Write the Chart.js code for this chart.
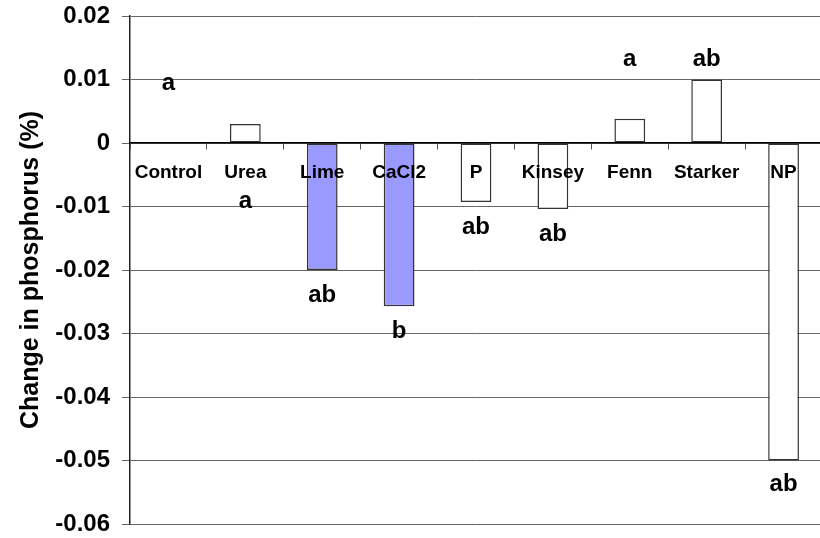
<!DOCTYPE html>
<html lang="en">
<head>
  <meta charset="UTF-8" />
  <title>Change in phosphorus</title>
  <script src="https://cdn.jsdelivr.net/npm/chart.js"></script>
  <style>
    html, body {
      margin: 0;
      padding: 0;
      background: #ffffff;
      overflow: hidden;
    }
    canvas { display: block; }
  </style>
</head>
<body>
  <canvas id="pChart" width="824" height="538"></canvas>

  <script>
    // treatments and mean change in P (%)
    const treatments = ['Control', 'Urea', 'Lime', 'CaCl2', 'P', 'Kinsey', 'Fenn', 'Starker', 'NP'];
    const changeP = [0, 0.0030, -0.0200, -0.0257, -0.0093, -0.0104, 0.0038, 0.0100, -0.0500];
    const barFill = ['#ffffff', '#ffffff', '#9999ff', '#9999ff', '#ffffff', '#ffffff', '#ffffff', '#ffffff', '#ffffff'];

    // significance letters and the height (in % units) where each is written
    const letters = ['a', 'a', 'ab', 'b', 'ab', 'ab', 'a', 'ab', 'ab'];
    const letterAt = [0.0083, -0.0102, -0.0251, -0.0307, -0.0143, -0.0154, 0.0122, 0.0122, -0.0548];

    const yTicks = { min: -0.06, max: 0.02, step: 0.01 };

    const FONT = "'Liberation Sans', Arial, sans-serif";

    const letterPlugin = {
      id: 'letters',
      afterDraw(chart) {
        const { ctx, scales } = chart;
        ctx.save();
        ctx.font = `bold 24px ${FONT}`;
        ctx.fillStyle = '#000';
        ctx.textAlign = 'center';
        ctx.textBaseline = 'alphabetic';
        letters.forEach((txt, i) => {
          ctx.fillText(txt, scales.x.getPixelForValue(i), scales.y.getPixelForValue(letterAt[i]));
        });
        ctx.restore();
      }
    };

    new Chart(document.getElementById('pChart').getContext('2d'), {
      type: 'bar',
      data: {
        labels: treatments,
        datasets: [{
          data: changeP,
          backgroundColor: barFill,
          borderColor: '#333333',
          borderWidth: 1.5,
          borderSkipped: false,
          categoryPercentage: 1,
          barPercentage: 0.4
        }]
      },
      options: {
        responsive: false,
        animation: false,
        layout: { padding: { top: 16, bottom: 14, left: 0, right: 2 } },
        plugins: {
          legend: { display: false },
          tooltip: { enabled: false }
        },
        scales: {
          x: {
            position: { y: 0 },
            // category names sit on top of the bars
            grid: { drawOnChartArea: false, drawTicks: true, tickLength: 6, color: '#555', offset: true, z: 1 },
            border: { display: true, color: '#000', width: 1.5, z: 1 },
            ticks: {
              z: 1,
              color: '#000',
              padding: 12,
              maxRotation: 0,
              autoSkip: false,
              font: { family: FONT, size: 19, weight: 'bold' }
            }
          },
          y: {
            min: yTicks.min,
            max: yTicks.max,
            afterFit: scale => {
              scale.width = 130;
              scale.paddingTop = 0;
              scale.paddingBottom = 0;
            },
            grid: { color: '#666', lineWidth: 1, tickLength: 8 },
            border: { display: true, color: '#222', width: 1.5 },
            ticks: {
              stepSize: yTicks.step,
              color: '#000',
              padding: 12,
              font: { family: FONT, size: 24, weight: 'bold' },
              callback: v => String(parseFloat(v.toFixed(2)))
            },
            title: {
              display: true,
              text: 'Change in phosphorus (%)',
              color: '#000',
              padding: { top: 19, bottom: 0 },
              font: { family: FONT, size: 25, weight: 'bold', lineHeight: 1 }
            }
          }
        }
      },
      plugins: [letterPlugin]
    });
  </script>
</body>
</html>
